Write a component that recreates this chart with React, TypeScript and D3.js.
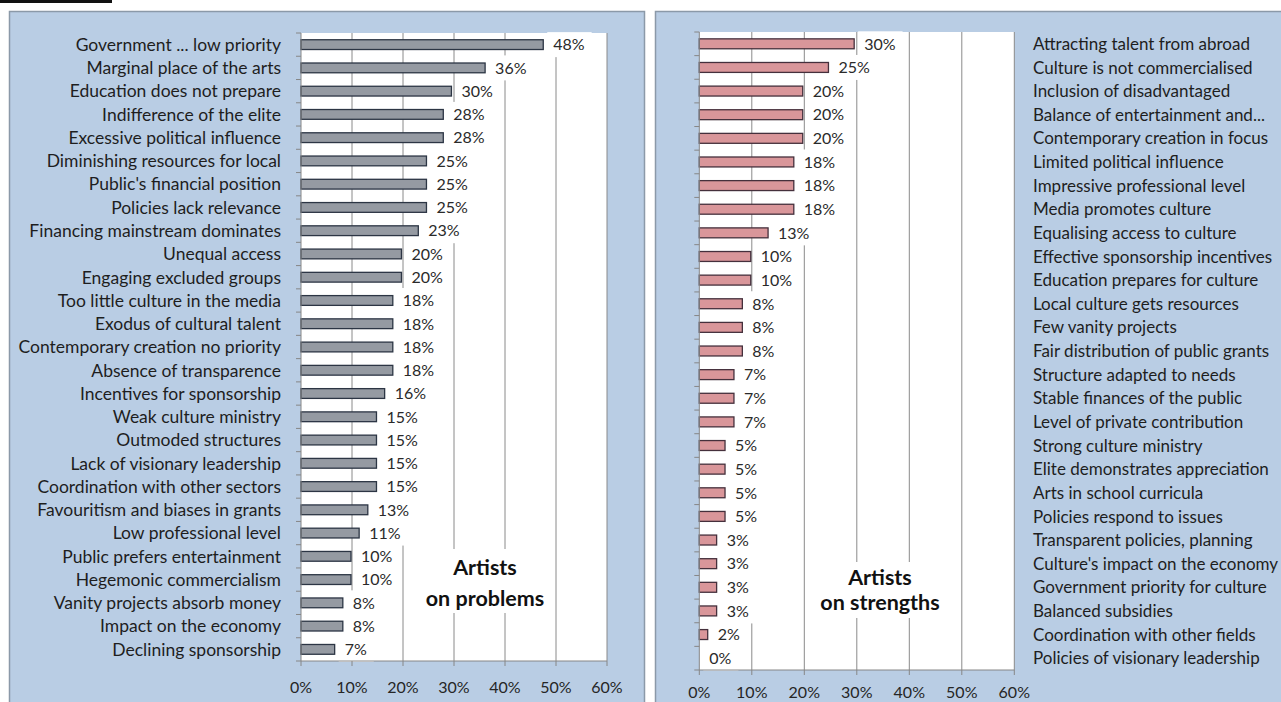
import { useEffect, useRef } from 'react';
import * as d3 from 'd3';

// problems named by artists (share of respondents, %)
const problemLabels = [
    'Government ... low priority',
    'Marginal place of the arts',
    'Education does not prepare',
    'Indifference of the elite',
    'Excessive political influence',
    'Diminishing resources for local',
    "Public's financial position",
    'Policies lack relevance',
    'Financing mainstream dominates',
    'Unequal access',
    'Engaging excluded groups',
    'Too little culture in the media',
    'Exodus of cultural talent',
    'Contemporary creation no priority',
    'Absence of transparence',
    'Incentives for sponsorship',
    'Weak culture ministry',
    'Outmoded structures',
    'Lack of visionary leadership',
    'Coordination with other sectors',
    'Favouritism and biases in grants',
    'Low professional level',
    'Public prefers entertainment',
    'Hegemonic commercialism',
    'Vanity projects absorb money',
    'Impact on the economy',
    'Declining sponsorship',
];
const problemValues = [
    47.5, 36.1, 29.5, 27.9, 27.9, 24.6, 24.6, 24.6, 23.0, 19.7, 19.7, 18.0, 18.0, 18.0,
    18.0, 16.4, 14.8, 14.8, 14.8, 14.8, 13.1, 11.4, 9.8, 9.8, 8.2, 8.2, 6.6,
];

// strengths named by artists (share of respondents, %)
const strengthLabels = [
    'Attracting talent from abroad',
    'Culture is not commercialised',
    'Inclusion of disadvantaged',
    'Balance of entertainment and...',
    'Contemporary creation in focus',
    'Limited political influence',
    'Impressive professional level',
    'Media promotes culture',
    'Equalising access to culture',
    'Effective sponsorship incentives',
    'Education prepares for culture',
    'Local culture gets resources',
    'Few vanity projects',
    'Fair distribution of public grants',
    'Structure adapted to needs',
    'Stable finances of the public',
    'Level of private contribution',
    'Strong culture ministry',
    'Elite demonstrates appreciation',
    'Arts in school curricula',
    'Policies respond to issues',
    'Transparent policies, planning',
    "Culture's impact on the economy",
    'Government priority for culture',
    'Balanced subsidies',
    'Coordination with other fields',
    'Policies of visionary leadership',
];
const strengthValues = [
    29.5, 24.6, 19.7, 19.7, 19.7, 18.0, 18.0, 18.0, 13.1, 9.8, 9.8, 8.2, 8.2, 8.2,
    6.6, 6.6, 6.6, 4.9, 4.9, 4.9, 4.9, 3.3, 3.3, 3.3, 3.3, 1.6, 0,
];

const percentTicks = [0, 10, 20, 30, 40, 50, 60];

const FONT = "Lato, 'Open Sans', sans-serif";

type Panel = {
    labels: string[];
    values: number[];
    frame: { x: number; y: number; w: number; h: number };
    plot: { left: number; right: number; top: number; bottom: number };
    labelSide: 'left' | 'right';
    labelX: number;
    labelSize: number;
    tickLabelY: number;
    fill: string;
    stroke: string;
    title: string[];
    titleX: number;
    titleY: number[];
    titleBox: { x: number; y: number; w: number; h: number };
};

function drawPanel(svg: d3.Selection<SVGSVGElement, unknown, null, undefined>, p: Panel) {
    const g = svg.append('g');

    g.append('rect')
        .attr('x', p.frame.x).attr('y', p.frame.y)
        .attr('width', p.frame.w).attr('height', p.frame.h)
        .attr('fill', '#b9cde4')
        .attr('stroke', '#8b99a8')
        .attr('stroke-width', 1.5);

    const x = d3.scaleLinear().domain([0, 60]).range([p.plot.left, p.plot.right]);
    const y = d3.scaleBand<string>()
        .domain(p.labels)
        .range([p.plot.top, p.plot.bottom])
        .paddingInner(0.58)
        .paddingOuter(0.29);

    // plot area
    g.append('rect')
        .attr('x', x(0)).attr('y', p.plot.top)
        .attr('width', x(60) - x(0)).attr('height', p.plot.bottom - p.plot.top)
        .attr('fill', '#ffffff');

    // gridlines
    g.append('g').selectAll('line')
        .data(percentTicks.slice(1))
        .join('line')
        .attr('x1', d => x(d)).attr('x2', d => x(d))
        .attr('y1', p.plot.top).attr('y2', p.plot.bottom)
        .attr('stroke', '#8a8a8a');

    const boxG = g.append('g');
    const barG = g.append('g');
    const textG = g.append('g');

    const rows = p.labels.map((label, i) => ({ label, value: p.values[i] }));

    // bars
    barG.selectAll('rect')
        .data(rows.filter(d => d.value > 0))
        .join('rect')
        .attr('x', x(0))
        .attr('y', d => y(d.label) as number)
        .attr('width', d => x(d.value) - x(0))
        .attr('height', y.bandwidth())
        .attr('fill', p.fill)
        .attr('stroke', p.stroke)
        .attr('stroke-width', 1.3);

    // data labels with white boxes
    const labels = textG.selectAll<SVGTextElement, typeof rows[0]>('text.val')
        .data(rows)
        .join('text')
        .attr('class', 'val')
        .attr('x', d => x(d.value) + 10)
        .attr('y', d => (y(d.label) as number) + y.bandwidth() / 2)
        .attr('dy', '0.36em')
        .attr('font-family', FONT)
        .attr('font-size', 16)
        .attr('fill', '#2a2a2a')
        .text(d => `${Math.round(d.value)}%`);

    labels.each(function (d) {
        const w = this.getComputedTextLength();
        const cy = (y(d.label) as number) + y.bandwidth() / 2;
        boxG.append('rect')
            .attr('x', x(d.value) + 4)
            .attr('y', cy - 12.5)
            .attr('width', w + 13)
            .attr('height', 25)
            .attr('fill', '#ffffff');
    });

    // category axis
    const axisColor = '#868686';
    g.append('line')
        .attr('x1', x(0)).attr('x2', x(0))
        .attr('y1', p.plot.top).attr('y2', p.plot.bottom)
        .attr('stroke', axisColor);
    g.append('g').selectAll('line')
        .data(d3.range(p.labels.length + 1))
        .join('line')
        .attr('x1', x(0) - 5).attr('x2', x(0))
        .attr('y1', i => p.plot.top + i * y.step())
        .attr('y2', i => p.plot.top + i * y.step())
        .attr('stroke', axisColor);

    // value axis
    g.append('line')
        .attr('x1', x(0)).attr('x2', x(60))
        .attr('y1', p.plot.bottom).attr('y2', p.plot.bottom)
        .attr('stroke', axisColor);
    g.append('g').selectAll('line')
        .data(percentTicks)
        .join('line')
        .attr('x1', d => x(d)).attr('x2', d => x(d))
        .attr('y1', p.plot.bottom).attr('y2', p.plot.bottom + 5)
        .attr('stroke', axisColor);

    g.append('g').selectAll('text')
        .data(percentTicks)
        .join('text')
        .attr('x', d => x(d))
        .attr('y', p.tickLabelY)
        .attr('dy', '0.36em')
        .attr('text-anchor', 'middle')
        .attr('font-family', FONT)
        .attr('font-size', 16)
        .attr('fill', '#262626')
        .text(d => `${d}%`);

    // category labels
    g.append('g').selectAll('text')
        .data(p.labels)
        .join('text')
        .attr('x', p.labelX)
        .attr('y', d => (y(d) as number) + y.bandwidth() / 2)
        .attr('dy', '0.36em')
        .attr('text-anchor', p.labelSide === 'left' ? 'end' : 'start')
        .attr('font-family', FONT)
        .attr('font-size', p.labelSize)
        .attr('fill', '#1e1e1e')
        .text(d => d);

    // annotation
    g.append('rect')
        .attr('x', p.titleBox.x).attr('y', p.titleBox.y)
        .attr('width', p.titleBox.w).attr('height', p.titleBox.h)
        .attr('fill', '#ffffff');
    g.append('g').selectAll('text')
        .data(p.title)
        .join('text')
        .attr('x', p.titleX)
        .attr('y', (d, i) => p.titleY[i])
        .attr('text-anchor', 'middle')
        .attr('font-family', FONT)
        .attr('font-weight', 'bold')
        .attr('font-size', 21.5)
        .attr('fill', '#111111')
        .text(d => d);
}

export default function App() {
    const svgRef = useRef<SVGSVGElement | null>(null);

    useEffect(() => {
        if (!svgRef.current) return;
        const svg = d3.select(svgRef.current);
        svg.selectAll('*').remove();

        svg.append('rect').attr('width', 1281).attr('height', 702).attr('fill', '#ffffff');
        // remains of the cropped caption above the panels
        svg.append('rect').attr('x', 0).attr('y', 0).attr('width', 112).attr('height', 3).attr('fill', '#111111');

        drawPanel(svg, {
            labels: problemLabels,
            values: problemValues,
            frame: { x: 9.5, y: 11.5, w: 635, h: 700 },
            plot: { left: 301, right: 607, top: 33, bottom: 661 },
            labelSide: 'left',
            labelX: 281,
            labelSize: 17.5,
            tickLabelY: 687,
            fill: '#959aa2',
            stroke: '#2c3544',
            title: ['Artists', 'on problems'],
            titleX: 485,
            titleY: [575, 606],
            titleBox: { x: 416, y: 549, w: 138, h: 64 },
        });

        drawPanel(svg, {
            labels: strengthLabels,
            values: strengthValues,
            frame: { x: 655.5, y: 11.5, w: 700, h: 700 },
            plot: { left: 699.3, right: 1014.3, top: 32, bottom: 670 },
            labelSide: 'right',
            labelX: 1033,
            labelSize: 17,
            tickLabelY: 692.5,
            fill: '#d9969a',
            stroke: '#45303c',
            title: ['Artists', 'on strengths'],
            titleX: 880,
            titleY: [585, 610],
            titleBox: { x: 813, y: 562, w: 134, h: 56 },
        });
    }, []);

    return (
        <svg
            ref={svgRef}
            width={1281}
            height={702}
            style={{ position: 'absolute', left: 0, top: 0, display: 'block' }}
        />
    );
}
